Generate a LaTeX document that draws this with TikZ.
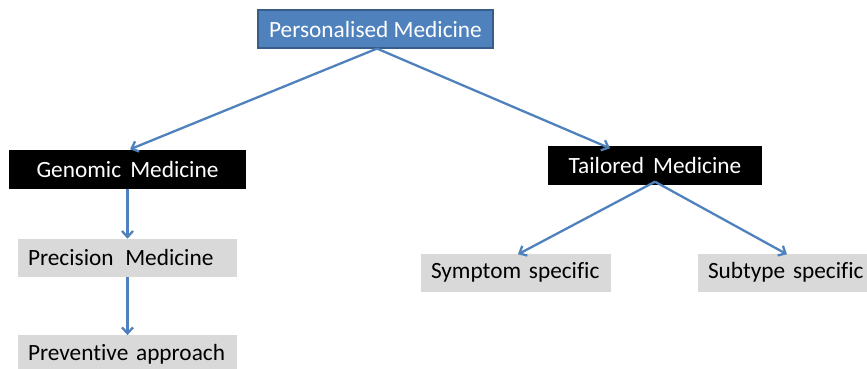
\documentclass[tikz,border=0pt]{standalone}
\usepackage{fontspec}
\setmainfont{Carlito}[Ligatures=NoCommon]
\usetikzlibrary{arrows.meta,positioning}

\definecolor{officeblue}{RGB}{79,129,189}
\definecolor{officeborder}{RGB}{56,93,138}
\definecolor{boxgrey}{RGB}{217,217,217}

\begin{document}
\begin{tikzpicture}[x=1pt,y=-1pt,
    every node/.style={font=\fontsize{23.3}{27}\selectfont, inner sep=0pt},
    rootbox/.style={rectangle, fill=officeblue, draw=officeborder, line width=1.2pt, text=white, minimum width=235pt, minimum height=38pt},
    blackbox/.style={rectangle, fill=black, text=white, minimum height=39pt},
    greybox/.style={rectangle, fill=boxgrey, inner xsep=10pt, minimum height=38pt},
    link/.style={draw=officeblue, line width=2.3pt, -{Straight Barb[length=6pt,width=11pt,line width=2.3pt]}},
    node distance=50pt]
    \useasboundingbox (0,0) rectangle (867,368);

    \node[rootbox] (pm) at (375.5,29) {Personalised Medicine};
    \node[blackbox, minimum width=237pt] (gm) at (127.5,169) {Genomic\ \,Medicine};
    \node[blackbox, minimum width=214pt] (tm) at (655,165) {Tailored\ \,Medicine};

    \node[greybox, text width=199pt, below=of gm] (pr) {Precision\ \,Medicine};
    \node[greybox, text width=199pt, below=58pt of pr] (pv) {Preventive approach};
    \node[greybox, text width=170pt] (sy) at (516,272.5) {Symptom specific};
    \node[greybox, text width=170pt] (st) at (793,272.5) {Subtype specific};

    \draw[link] ([xshift=1.5pt]pm.south) -- ([xshift=2.5pt]gm.north);
    \draw[link] ([xshift=1.5pt]pm.south) -- ([xshift=-45pt,yshift=-3pt]tm.north);
    \draw[link] (gm.south) -- (pr.north);
    \draw[link] (pr.south) -- (pv.north);
    \draw[link] ([yshift=3pt]tm.south) -- ([xshift=2pt,yshift=-1pt]sy.north);
    \draw[link] ([yshift=3pt]tm.south) -- ([xshift=-6pt,yshift=-1pt]st.north);
\end{tikzpicture}
\end{document}
